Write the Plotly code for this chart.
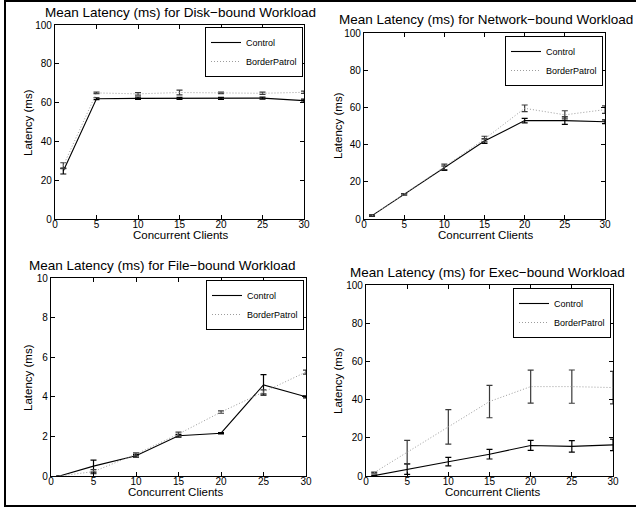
import plotly.graph_objects as go

W, H = 636, 514

clients = [1, 5, 10, 15, 20, 25, 30]

disk_control = [24.7, 62.0, 62.2, 62.2, 62.2, 62.3, 61.0]
disk_control_err = [1.5, 0.5, 0.6, 0.5, 0.5, 0.5, 0.8]
disk_bp = [27.5, 65.0, 64.5, 65.2, 65.0, 64.8, 65.3]
disk_bp_err = [1.5, 0.4, 0.6, 1.2, 0.4, 0.6, 0.6]

net_control = [1.8, 13.3, 27.3, 41.9, 52.9, 52.9, 52.3]
net_control_err = [0.4, 0.4, 1.2, 1.2, 1.2, 2.0, 1.0]
net_bp = [1.8, 13.3, 28.0, 43.0, 59.5, 56.0, 58.8]
net_bp_err = [0.3, 0.4, 1.5, 1.5, 1.8, 2.2, 2.0]

file_control = [0.0, 0.5, 1.02, 2.03, 2.16, 4.6, 4.0]
file_control_err = [0.02, 0.3, 0.07, 0.07, 0.03, 0.52, 0.05]
file_bp = [0.0, 0.22, 1.1, 2.12, 3.23, 4.25, 5.25]
file_bp_err = [0.02, 0.1, 0.07, 0.1, 0.06, 0.1, 0.1]

exec_control = [0.2, 3.6, 7.5, 11.4, 16.0, 15.5, 16.3]
exec_control_err = [0.3, 2.7, 2.2, 2.5, 2.6, 3.0, 3.0]
exec_bp = [1.8, 12.5, 25.7, 39.0, 46.8, 46.8, 46.3]
exec_bp_err = [0.3, 6.2, 9.0, 8.5, 8.6, 8.7, 8.5]

titles = ["Mean Latency (ms) for Disk\u2212bound Workload",
          "Mean Latency (ms) for Network\u2212bound Workload",
          "Mean Latency (ms) for File\u2212bound Workload",
          "Mean Latency (ms) for Exec\u2212bound Workload"]
xticks = [0, 5, 10, 15, 20, 25, 30]
yticks_100 = [0, 20, 40, 60, 80, 100]
yticks_10 = [0, 2, 4, 6, 8, 10]

FONT = "Liberation Sans, Arial, sans-serif"

# panel boxes in pixels: (left, right, top, bottom)
boxes = [(55, 304, 25, 219), (364, 605, 33, 219), (51, 306, 278, 476), (366, 613, 285, 476)]
title_pos = [(180, 12), (486, 20), (162, 265.5), (487, 272.5)]
ytitle_pos = [(28, 122), (338, 126), (28, 377), (338, 381)]
xtitle_pos = [(180, 235), (485, 235), (175, 492), (492, 492)]
legend_pos = [(303, 27), (603, 36), (304, 280), (611, 288)]

panels = [
    (disk_control, disk_control_err, disk_bp, disk_bp_err, 100, yticks_100),
    (net_control, net_control_err, net_bp, net_bp_err, 100, yticks_100),
    (file_control, file_control_err, file_bp, file_bp_err, 10, yticks_10),
    (exec_control, exec_control_err, exec_bp, exec_bp_err, 100, yticks_100),
]

fig = go.Figure()
layout = dict(width=W, height=H, margin=dict(l=0, r=0, t=0, b=0, autoexpand=False),
              paper_bgcolor="white", plot_bgcolor="white",
              font=dict(family=FONT, size=10, color="black"),
              annotations=[], shapes=[])

def px(x):
    return x / W

def py(y):
    return 1 - y / H

for i, (c, ce, b, be, ymax, yt) in enumerate(panels):
    n = i + 1
    xa = "x" if n == 1 else f"x{n}"
    ya = "y" if n == 1 else f"y{n}"
    lg = "legend" if n == 1 else f"legend{n}"
    fig.add_trace(go.Scatter(
        x=clients, y=c, mode="lines", name="Control",
        line=dict(color="black", width=1.1),
        error_y=dict(type="data", array=ce, visible=True, color="black", thickness=1.2, width=3),
        xaxis=xa, yaxis=ya, legend=lg, showlegend=True))
    fig.add_trace(go.Scatter(
        x=clients, y=b, mode="lines", name="BorderPatrol",
        line=dict(color="#9c9c9c", width=1, dash="1px,2px"),
        error_y=dict(type="data", array=be, visible=True, color="#3a3a3a", thickness=1.2, width=3),
        xaxis=xa, yaxis=ya, legend=lg, showlegend=True))
    l, r, t, bt = boxes[i]
    axk = "xaxis" if n == 1 else f"xaxis{n}"
    ayk = "yaxis" if n == 1 else f"yaxis{n}"
    layout[axk] = dict(domain=[px(l), px(r)], range=[0, 30], tickvals=xticks,
                       ticks="inside", ticklen=4, tickcolor="black", mirror="ticks",
                       showline=True, linecolor="black", linewidth=1.3,
                       showgrid=False, zeroline=False, anchor=ya,
                       ticklabelstandoff=-4,
                       tickfont=dict(size=10, family=FONT))
    layout[ayk] = dict(domain=[py(bt), py(t)], range=[0, ymax], tickvals=yt,
                       ticks="inside", ticklen=4, tickcolor="black", mirror="ticks",
                       showline=True, linecolor="black", linewidth=1.3,
                       showgrid=False, zeroline=False, anchor=xa,
                       tickfont=dict(size=10, family=FONT))
    lx, ly = legend_pos[i]
    layout[lg] = dict(x=px(lx), y=py(ly), xanchor="right", yanchor="top",
                      bgcolor="white", bordercolor="black", borderwidth=1,
                      font=dict(size=9, family=FONT), itemwidth=30,
                      tracegroupgap=0)
    tx, ty = title_pos[i]
    layout["annotations"].append(dict(text=titles[i], x=px(tx), y=py(ty), xref="paper", yref="paper",
                                      xanchor="center", yanchor="middle", showarrow=False,
                                      font=dict(size=13.5, family=FONT)))
    yx, yy = ytitle_pos[i]
    layout["annotations"].append(dict(text="Latency (ms)", x=px(yx), y=py(yy), xref="paper", yref="paper",
                                      xanchor="center", yanchor="middle", showarrow=False, textangle=-90,
                                      font=dict(size=11.5, family=FONT)))
    xx, xy = xtitle_pos[i]
    layout["annotations"].append(dict(text="Concurrent Clients", x=px(xx), y=py(xy), xref="paper", yref="paper",
                                      xanchor="center", yanchor="middle", showarrow=False,
                                      font=dict(size=11.5, family=FONT)))

# outer frame
layout["shapes"].append(dict(type="rect", xref="paper", yref="paper",
                             x0=px(5), x1=px(W + 10), y0=py(506), y1=py(1),
                             line=dict(color="black", width=2), fillcolor="rgba(0,0,0,0)", layer="below"))

fig.update_layout(**layout)
fig.write_html("out.html",
               config={"displayModeBar": False},
               post_script="document.body.style.margin='0px';document.body.style.overflow='hidden';")
